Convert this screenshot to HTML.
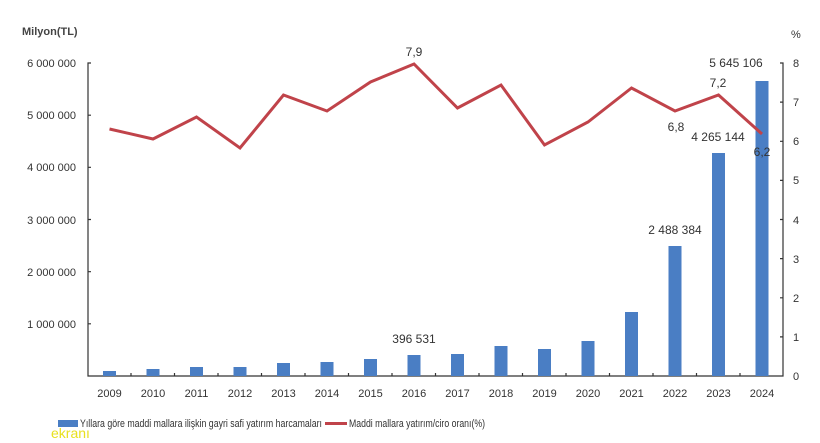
<!DOCTYPE html>
<html><head><meta charset="utf-8"><style>
html,body{margin:0;padding:0;background:#fff;}
svg{display:block;font-family:"Liberation Sans",sans-serif;}
</style></head><body>
<svg width="820" height="443" viewBox="0 0 820 443">
<text x="22" y="35" font-size="11" font-weight="bold" fill="#444">Milyon(TL)</text>
<g font-size="11" fill="#333" text-anchor="end">
<text x="76" y="67">6 000 000</text>
<text x="76" y="119">5 000 000</text>
<text x="76" y="171">4 000 000</text>
<text x="76" y="224">3 000 000</text>
<text x="76" y="276">2 000 000</text>
<text x="76" y="328">1 000 000</text>
</g>
<g font-size="11" fill="#333" text-anchor="start">
<text x="791" y="38">%</text>
<text x="793" y="67">8</text>
<text x="793" y="106">7</text>
<text x="793" y="145">6</text>
<text x="793" y="184">5</text>
<text x="793" y="224">4</text>
<text x="793" y="263">3</text>
<text x="793" y="302">2</text>
<text x="793" y="341">1</text>
<text x="793" y="380">0</text>
</g>
<g stroke="#333" stroke-width="1.2" fill="none">
<path d="M91,63 H88 V376 H783 V63 H780"/>
<path d="M88,115.2 h3 M88,167.3 h3 M88,219.5 h3 M88,271.7 h3 M88,323.8 h3"/>
<path d="M783,102.1 h-3 M783,141.3 h-3 M783,180.4 h-3 M783,219.5 h-3 M783,258.6 h-3 M783,297.8 h-3 M783,336.9 h-3"/>
<path d="M131,376 v-3 M174.5,376 v-3 M218,376 v-3 M261.5,376 v-3 M305,376 v-3 M348.5,376 v-3 M392,376 v-3 M435.5,376 v-3 M479,376 v-3 M522.5,376 v-3 M566,376 v-3 M609.5,376 v-3 M653,376 v-3 M696.5,376 v-3 M740,376 v-3"/>
</g>
<g fill="#4a7ec4">
<rect x="103" y="371" width="13" height="5"/>
<rect x="146.5" y="369" width="13" height="7"/>
<rect x="190" y="367" width="13" height="9"/>
<rect x="233.5" y="367" width="13" height="9"/>
<rect x="277" y="363" width="13" height="13"/>
<rect x="320.5" y="362" width="13" height="14"/>
<rect x="364" y="359" width="13" height="17"/>
<rect x="407.5" y="355" width="13" height="21"/>
<rect x="451" y="354" width="13" height="22"/>
<rect x="494.5" y="346" width="13" height="30"/>
<rect x="538" y="349" width="13" height="27"/>
<rect x="581.5" y="341" width="13" height="35"/>
<rect x="625" y="312" width="13" height="64"/>
<rect x="668.5" y="246" width="13" height="130"/>
<rect x="712" y="153" width="13" height="223"/>
<rect x="755.5" y="81" width="13" height="295"/>
</g>
<polyline fill="none" stroke="#c0434a" stroke-width="3" points="109.5,129 153,139 196.5,117 240,148 283.5,95 327,111 370.5,82 414,64 457.5,108 501,85 544.5,145 588,122 631.5,88 675,111 718.5,95 762,134"/>
<g font-size="12" fill="#333" text-anchor="middle">
<text x="414" y="56">7,9</text>
<text x="718" y="87">7,2</text>
<text x="676" y="131">6,8</text>
<text x="762" y="156">6,2</text>
<text x="414" y="343">396 531</text>
<text x="675" y="234">2 488 384</text>
<text x="718" y="141">4 265 144</text>
<text x="736" y="67">5 645 106</text>
</g>
<g font-size="11" fill="#333" text-anchor="middle">
<text x="109.5" y="397">2009</text><text x="153" y="397">2010</text><text x="196.5" y="397">2011</text><text x="240" y="397">2012</text><text x="283.5" y="397">2013</text><text x="327" y="397">2014</text><text x="370.5" y="397">2015</text><text x="414" y="397">2016</text><text x="457.5" y="397">2017</text><text x="501" y="397">2018</text><text x="544.5" y="397">2019</text><text x="588" y="397">2020</text><text x="631.5" y="397">2021</text><text x="675" y="397">2022</text><text x="718.5" y="397">2023</text><text x="762" y="397">2024</text>
</g>
<rect x="58" y="420" width="20" height="7" fill="#4a7ec4"/>
<text x="80" y="427" font-size="11" fill="#333" textLength="242" lengthAdjust="spacingAndGlyphs">Yıllara göre maddi mallara ilişkin gayri safi yatırım harcamaları</text>
<rect x="325" y="422" width="22" height="3" fill="#c0434a"/>
<text x="349" y="427" font-size="11" fill="#333" textLength="136" lengthAdjust="spacingAndGlyphs">Maddi mallara yatırım/ciro oranı(%)</text>
<text x="51" y="438" font-size="14" fill="#e8e020">ekranı</text>
</svg>
</body></html>
